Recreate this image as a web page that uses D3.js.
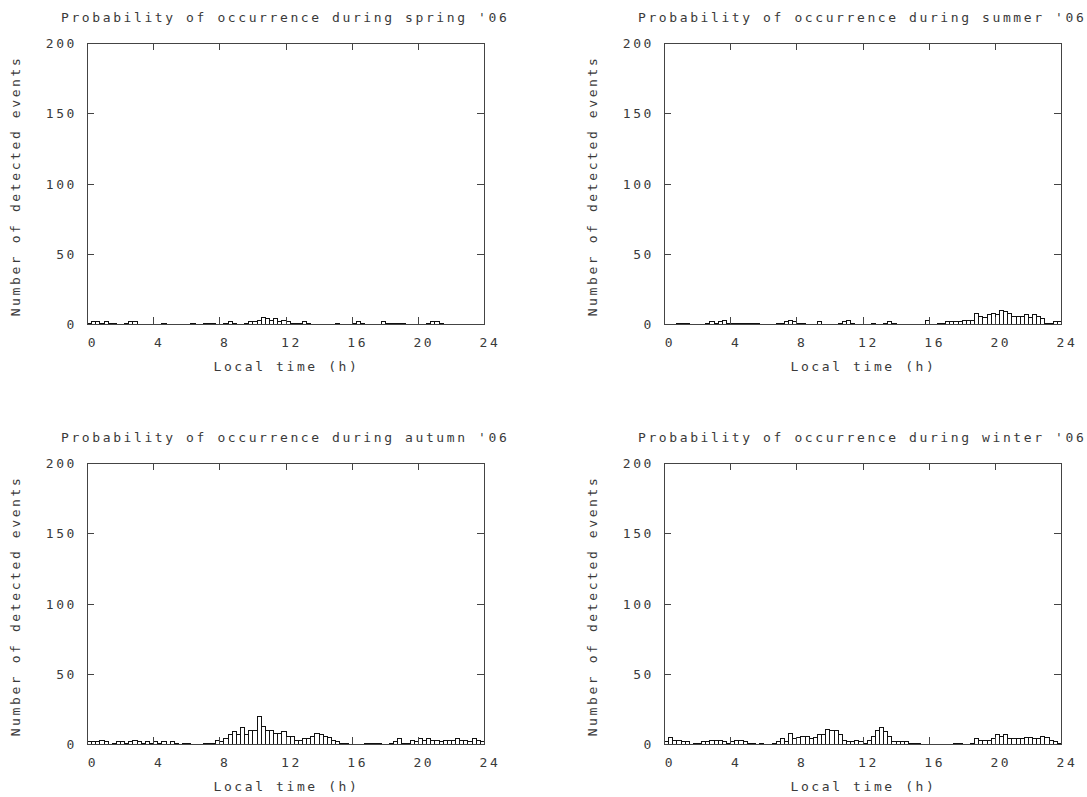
<!DOCTYPE html>
<html lang="en">
  <head>
    <meta charset="utf-8" />
    <title>Probability of occurrence per season</title>
    <script src="https://d3js.org/d3.v7.min.js"></script>
    <style type="text/css">
      body { margin: 0; background: #fff; }
      text {
        font-family: "DejaVu Sans Mono", monospace;
        font-size: 13px;
        letter-spacing: 2.6px;
        fill: #3a3a3a;
      }
    </style>
  </head>
  <body>
    <script type="text/javascript">
      //Width and height
      var w = 1087;
      var h = 797;

      var seasons = ["spring", "summer", "autumn", "winter"];
      var xTicks = [0, 4, 8, 12, 16, 20, 24];
      var yTicks = [0, 50, 100, 150, 200];
      var binHours = 0.25;

      //counts per 15 minute bin, 96 bins from 0h to 24h
      var spring = [
        1, 2, 2, 1, 2, 1, 1, 0, 0, 1, 2, 2, 0, 0, 0, 0, 0, 0, 1, 0,
        0, 0, 0, 0, 0, 1, 0, 0, 1, 1, 1, 0, 0, 1, 2, 1, 0, 0, 1, 2,
        2, 3, 5, 4, 3, 4, 2, 3, 2, 1, 1, 1, 2, 1, 0, 0, 0, 0, 0, 0,
        1, 0, 0, 0, 1, 2, 1, 0, 0, 0, 0, 2, 1, 1, 1, 1, 1, 0, 0, 0,
        0, 0, 1, 2, 2, 1, 0, 0, 0, 0, 0, 0, 0, 0, 0, 0
      ];
      var summer = [
        0, 0, 0, 1, 1, 1, 0, 0, 0, 0, 1, 2, 1, 2, 3, 1, 1, 1, 1, 1,
        1, 1, 1, 0, 0, 0, 0, 1, 1, 2, 3, 2, 1, 1, 0, 0, 0, 2, 0, 0,
        0, 0, 1, 2, 3, 1, 0, 0, 0, 0, 1, 0, 0, 1, 2, 1, 0, 0, 0, 0,
        0, 0, 0, 3, 0, 0, 1, 1, 2, 2, 2, 2, 3, 3, 3, 8, 6, 5, 7, 8,
        7, 10, 9, 8, 6, 6, 6, 7, 5, 7, 6, 4, 1, 1, 2, 2
      ];
      var autumn = [
        2, 2, 2, 3, 2, 0, 1, 2, 2, 1, 2, 3, 2, 1, 2, 1, 2, 1, 2, 0,
        2, 1, 0, 1, 1, 0, 0, 0, 1, 1, 1, 3, 2, 4, 7, 9, 7, 12, 7, 10,
        10, 20, 13, 10, 10, 8, 8, 9, 6, 6, 3, 3, 4, 4, 6, 8, 7, 6, 5, 3,
        2, 1, 1, 0, 0, 0, 0, 1, 1, 1, 1, 0, 0, 1, 2, 4, 1, 1, 3, 2,
        4, 3, 4, 3, 3, 2, 3, 3, 3, 4, 3, 3, 2, 4, 3, 2
      ];
      var winter = [
        2, 5, 3, 3, 2, 2, 0, 1, 1, 2, 2, 3, 3, 3, 2, 1, 2, 3, 3, 2,
        1, 1, 0, 1, 0, 0, 1, 2, 4, 2, 8, 4, 5, 6, 6, 4, 5, 7, 7, 11,
        10, 10, 7, 3, 2, 2, 3, 2, 1, 3, 6, 10, 12, 9, 6, 2, 2, 2, 2, 1,
        1, 1, 0, 0, 0, 0, 0, 0, 0, 0, 1, 1, 0, 0, 1, 4, 3, 3, 3, 4,
        7, 6, 7, 4, 4, 4, 4, 5, 5, 4, 4, 6, 5, 3, 2, 1
      ];
      var counts = [spring, summer, autumn, winter];

      //plot boxes: left edge and top edge of each panel
      var panelLeft = [87, 664, 87, 664];
      var panelTop = [43, 43, 463, 463];
      var plotW = 397;
      var plotH = 281;
      var tickLen = 7;

      //Create SVG element
      var svg = d3
        .select("body")
        .append("svg")
        .attr("width", w)
        .attr("height", h);

      seasons.forEach(function (season, k) {
        var L = panelLeft[k];
        var T = panelTop[k];
        var data = counts[k].map(function (d, i) {
          return { start: i * binHours, end: (i + 1) * binHours, n: d };
        });

        var xScale = d3.scaleLinear().domain([0, 24]).range([L, L + plotW]);
        var yScale = d3.scaleLinear().domain([0, 200]).range([T + plotH, T]);

        var g = svg.append("g");

        //Bars (empty bins are not drawn)
        g.selectAll("rect.bar")
          .data(data.filter(function (d) { return d.n > 0; }))
          .enter()
          .append("rect")
          .attr("class", "bar")
          .attr("x", function (d) { return Math.round(xScale(d.start)) + 0.5; })
          .attr("y", function (d) { return Math.round(yScale(d.n)) + 0.5; })
          .attr("width", function (d) {
            return Math.round(xScale(d.end)) - Math.round(xScale(d.start));
          })
          .attr("height", function (d) {
            return Math.round(yScale(0)) - Math.round(yScale(d.n));
          })
          .attr("fill", "#fff")
          .attr("stroke", "#111")
          .attr("stroke-width", 1);

        //Frame
        g.append("rect")
          .attr("x", L + 0.5)
          .attr("y", T + 0.5)
          .attr("width", plotW)
          .attr("height", plotH)
          .attr("fill", "none")
          .attr("stroke", "#444")
          .attr("stroke-width", 1);

        //x ticks top and bottom
        xTicks.forEach(function (t) {
          var x = Math.round(xScale(t)) + 0.5;
          g.append("line")
            .attr("x1", x).attr("x2", x)
            .attr("y1", T).attr("y2", T + tickLen)
            .attr("stroke", "#444");
          g.append("line")
            .attr("x1", x).attr("x2", x)
            .attr("y1", T + plotH).attr("y2", T + plotH - tickLen)
            .attr("stroke", "#444");
          g.append("text")
            .attr("x", xScale(t) + 6)
            .attr("y", T + plotH + 23)
            .attr("text-anchor", "middle")
            .text(t);
        });

        //y ticks left and right
        yTicks.forEach(function (t) {
          var y = Math.round(yScale(t)) + 0.5;
          g.append("line")
            .attr("x1", L).attr("x2", L + tickLen)
            .attr("y1", y).attr("y2", y)
            .attr("stroke", "#444");
          g.append("line")
            .attr("x1", L + plotW).attr("x2", L + plotW - tickLen)
            .attr("y1", y).attr("y2", y)
            .attr("stroke", "#444");
          g.append("text")
            .attr("x", L - 10)
            .attr("y", yScale(t) + 5)
            .attr("text-anchor", "end")
            .text(t);
        });

        //Titles
        g.append("text")
          .attr("x", L - 26)
          .attr("y", T - 21)
          .text("Probability of occurrence during " + season + " '06");

        g.append("text")
          .attr("x", L + plotW / 2 + 1)
          .attr("y", T + plotH + 47)
          .attr("text-anchor", "middle")
          .text("Local time (h)");

        g.append("text")
          .attr("transform", "translate(" + (L - 67) + "," + (T + 143) + ") rotate(-90)")
          .attr("text-anchor", "middle")
          .text("Number of detected events");
      });
    </script>
  </body>
</html>
